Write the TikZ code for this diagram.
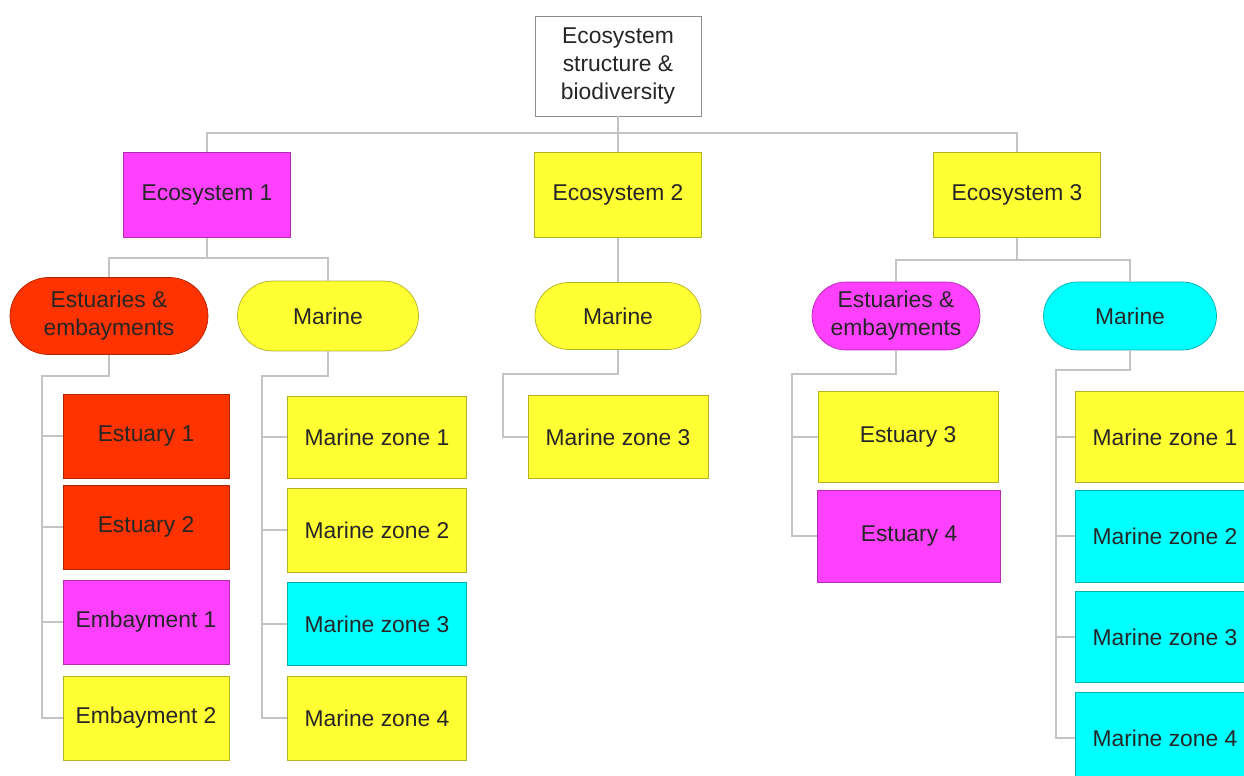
\documentclass[tikz,border=0pt]{standalone}
\usepackage{fontspec}
\setmainfont{Liberation Sans}
\usetikzlibrary{shapes.misc}
\definecolor{ecoRed}{HTML}{FF3300}
\definecolor{ecoPink}{HTML}{FF40FF}
\definecolor{ecoYellow}{HTML}{FFFF33}
\definecolor{ecoCyan}{HTML}{00FFFF}
\definecolor{linkGray}{HTML}{C4C4C4}
\tikzset{
  box/.style={rectangle, fill=#1, draw=#1!70!black, inner sep=0pt, align=center,
    text=black!85, font=\fontsize{13}{16}\selectfont},
  pill/.style={rounded rectangle, fill=#1, draw=#1!70!black, inner sep=0pt, align=center,
    text=black!85, font=\fontsize{13}{16}\selectfont},
  link/.style={draw=linkGray, line width=0.9pt},
  sz/.style 2 args={minimum width=#1cm, minimum height=#2cm}
}
\begin{document}
\begin{tikzpicture}[x=0.02cm, y=-0.02cm]
\useasboundingbox (0,0) rectangle (1244,776);
\clip (0,0) rectangle (1244,776);
\node[box=white, draw=black!45, sz={3.32}{2.0}] (root) at (618,66) {Ecosystem\\structure \&\\biodiversity};
\node[box=ecoPink, sz={3.34}{1.7}] (eco1) at (207,195) {Ecosystem 1};
\node[box=ecoYellow, sz={3.34}{1.7}] (eco2) at (618,195) {Ecosystem 2};
\node[box=ecoYellow, sz={3.34}{1.7}] (eco3) at (1017,195) {Ecosystem 3};
\node[pill=ecoRed, sz={3.96}{1.54}] (estA) at (109,316) {Estuaries \&\\embayments};
\node[pill=ecoYellow, sz={3.62}{1.4}] (marA) at (328,316) {Marine};
\node[pill=ecoYellow, sz={3.32}{1.34}] (marB) at (618,316) {Marine};
\node[pill=ecoPink, sz={3.36}{1.36}] (estC) at (896,316) {Estuaries \&\\embayments};
\node[pill=ecoCyan, sz={3.46}{1.36}] (marC) at (1130,316) {Marine};
\node[box=ecoRed, sz={3.32}{1.68}] (est1) at (146,436) {Estuary 1};
\node[box=ecoRed, sz={3.32}{1.68}] (est2) at (146,527) {Estuary 2};
\node[box=ecoPink, sz={3.32}{1.68}] (emb1) at (146,622) {Embayment 1};
\node[box=ecoYellow, sz={3.32}{1.68}] (emb2) at (146,718) {Embayment 2};
\node[box=ecoYellow, sz={3.58}{1.64}] (zoneA1) at (377,437) {Marine zone 1};
\node[box=ecoYellow, sz={3.58}{1.68}] (zoneA2) at (377,530) {Marine zone 2};
\node[box=ecoCyan, sz={3.58}{1.66}] (zoneA3) at (377,624) {Marine zone 3};
\node[box=ecoYellow, sz={3.58}{1.68}] (zoneA4) at (377,718) {Marine zone 4};
\node[box=ecoYellow, sz={3.6}{1.66}] (zoneB3) at (618,437) {Marine zone 3};
\node[box=ecoYellow, sz={3.6}{1.82}] (est3) at (908,437) {Estuary 3};
\node[box=ecoPink, sz={3.66}{1.84}] (est4) at (909,536) {Estuary 4};
\node[box=ecoYellow, sz={3.6}{1.82}] (zoneC1) at (1165,437) {Marine zone 1};
\node[box=ecoCyan, sz={3.6}{1.84}] (zoneC2) at (1165,536) {Marine zone 2};
\node[box=ecoCyan, sz={3.6}{1.82}] (zoneC3) at (1165,637) {Marine zone 3};
\node[box=ecoCyan, sz={3.6}{1.84}] (zoneC4) at (1165,738) {Marine zone 4};
\coordinate (busTop) at (618,133);
\coordinate (bus1) at (207,258);
\coordinate (bus3) at (1017,260);
\coordinate (trunkA) at (42,376);
\coordinate (trunkB) at (262,376);
\coordinate (trunkC) at (503,374);
\coordinate (trunkD) at (792,374);
\coordinate (trunkE) at (1056,370);
\draw[link] (root.south) -- (eco2.north);
\draw[link] (eco1.north) |- (busTop) -| (eco3.north);
\draw[link] (eco1.south) -- (bus1);
\draw[link] (estA.north) |- (bus1) -| (marA.north);
\draw[link] (eco2.south) -- (marB.north);
\draw[link] (eco3.south) -- (bus3);
\draw[link] (estC.north) |- (bus3) -| (marC.north);
\draw[link] (estA.south) |- (trunkA) |- (emb2.west);
\draw[link] (marA.south) |- (trunkB) |- (zoneA4.west);
\draw[link] (marB.south) |- (trunkC) |- (zoneB3.west);
\draw[link] (estC.south) |- (trunkD) |- (est4.west);
\draw[link] (marC.south) |- (trunkE) |- (zoneC4.west);
\foreach \n in {est1,est2,emb1}
    \draw[link] (trunkA |- \n.west) -- (\n.west);
\foreach \n in {zoneA1,zoneA2,zoneA3}
    \draw[link] (trunkB |- \n.west) -- (\n.west);
\draw[link] (trunkD |- est3.west) -- (est3.west);
\foreach \n in {zoneC1,zoneC2,zoneC3}
    \draw[link] (trunkE |- \n.west) -- (\n.west);
\end{tikzpicture}
\end{document}
